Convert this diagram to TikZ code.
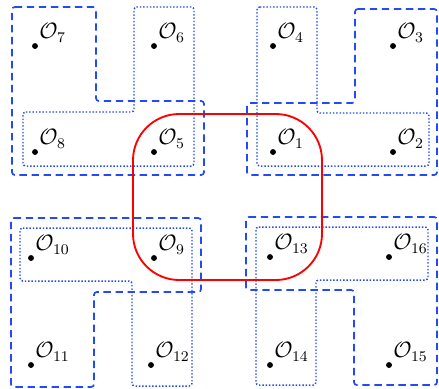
\documentclass[tikz,border=0pt]{standalone}
\usepackage{amsmath}
\usetikzlibrary{positioning}
\definecolor{grpblue}{RGB}{35,75,245}
\tikzset{
  dot/.style={circle, fill=black, inner sep=0pt, minimum size=3.2pt},
  lab/.style={anchor=base west, inner sep=0pt, xshift=2.2pt, yshift=3.8pt, font=\large},
  outer/.style={draw=grpblue, line width=0.9pt, dash pattern=on 4pt off 2.5pt, rounded corners=1.5pt},
  inner/.style={draw=grpblue, line width=0.8pt, densely dotted, rounded corners=1.5pt},
  zone/.style={draw=red, line width=1pt, rounded corners=25pt}
}
\begin{document}
\begin{tikzpicture}[x=0.019cm, y=-0.019cm]
    \useasboundingbox (0,0) rectangle (439,388);

    % cluster points
    \foreach \n/\x/\y in {1/273/152, 2/393/152, 3/393/46, 4/273/46,
                          5/154/152, 6/154/46, 7/35/46, 8/35/152,
                          9/154/258, 10/31/258, 11/31/365, 12/151/365,
                          13/270/257, 14/270/365, 15/389/365, 16/389/257} {
        \node (o\n) [dot] at (\x,\y) {};
        \node (l\n) [lab] at (o\n) {$\mathcal{O}_{\n}$};
    }

    % top left
    \draw [outer] (12,7) -- (96,7) -- (96,101) -- (204,101) -- (204,175) -- (12,175) -- cycle;
    \draw [inner] (23,112) -- (134,112) -- (134,7) -- (194,7) -- (194,166) -- (23,166) -- cycle;

    % top right
    \draw [outer] (355,9) -- (437,9) -- (437,175) -- (247,175) -- (247,103) -- (355,103) -- cycle;
    \draw [inner] (257,7) -- (317,7) -- (317,113) -- (429,113) -- (429,166) -- (257,166) -- cycle;

    % bottom left
    \draw [outer] (11,218) -- (201,218) -- (201,292) -- (94,292) -- (94,387) -- (11,387) -- cycle;
    \draw [inner] (20,228) -- (192,228) -- (192,386) -- (132,386) -- (132,281) -- (20,281) -- cycle;

    % bottom right
    \draw [outer] (246,217) -- (437,217) -- (437,385) -- (354,385) -- (354,290) -- (246,290) -- cycle;
    \draw [inner] (256,227) -- (428,227) -- (428,280) -- (316,280) -- (316,385) -- (256,385) -- cycle;

    % central region
    \draw [zone] (133,114) rectangle (322,280);
\end{tikzpicture}
\end{document}
